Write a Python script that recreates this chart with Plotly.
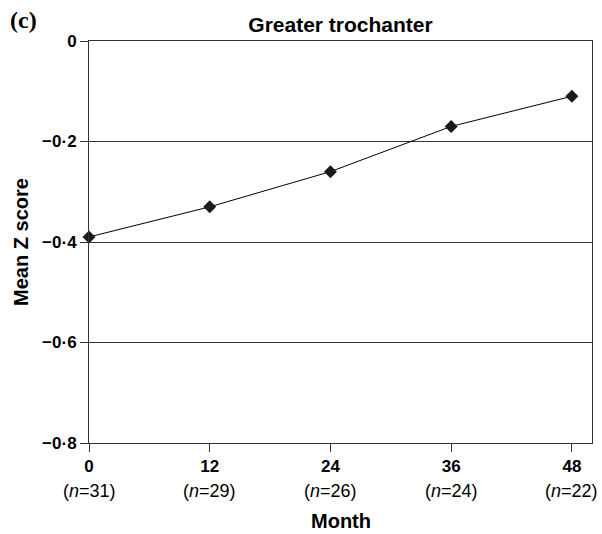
import plotly.graph_objects as go

months = [0, 12, 24, 36, 48]
n_counts = [31, 29, 26, 24, 22]
mean_z = [-0.39, -0.33, -0.26, -0.17, -0.11]
y_ticks = [0, -0.2, -0.4, -0.6, -0.8]
y_tick_labels = ["0", "\u22120\u00b72", "\u22120\u00b74", "\u22120\u00b76", "\u22120\u00b78"]

FONT = "Liberation Sans, Arial, sans-serif"
L, R, T, B = 89, 10, 41, 91
PW, PH = 602 - L - R, 534 - T - B

fig = go.Figure()
fig.add_trace(go.Scatter(
    x=months, y=mean_z, mode="lines+markers",
    line=dict(color="#000000", width=1),
    marker=dict(symbol="diamond", size=10, color="#1a1a1a"),
    showlegend=False, cliponaxis=False,
))

fig.update_layout(
    width=602, height=534,
    margin=dict(l=L, r=R, t=T, b=B),
    paper_bgcolor="white", plot_bgcolor="white",
    font=dict(family=FONT, color="#000000"),
    title=dict(text="<b>Greater trochanter</b>", x=(L + 602 - R) / 2 / 602, xanchor="center",
               y=1 - 25 / 534, yanchor="middle", font=dict(size=21, family=FONT)),
    xaxis=dict(
        range=[0, 50], tickmode="array", tickvals=months,
        ticktext=["<b>%d</b>" % m for m in months],
        ticks="outside", ticklen=8, tickcolor="#333333", tickwidth=1,
        showline=True, linecolor="#333333", linewidth=1, mirror=True,
        showgrid=False, zeroline=False, automargin=False,
        tickfont=dict(size=17, family=FONT),
    ),
    yaxis=dict(
        range=[-0.8, 0], tickmode="array", tickvals=y_ticks, ticktext=["<b>%s</b>" % t for t in y_tick_labels],
        ticks="outside", ticklen=8, tickcolor="#333333", tickwidth=1,
        showline=True, linecolor="#333333", linewidth=1, mirror=True,
        showgrid=True, gridcolor="#333333", gridwidth=1, zeroline=False, automargin=False,
        tickfont=dict(size=17, family=FONT),
        title=dict(text="<b>Mean Z score</b>", font=dict(size=20, family=FONT), standoff=8),
    ),
)

for m, n in zip(months, n_counts):
    fig.add_annotation(x=m, y=-0.8, xref="x", yref="y", yshift=-48,
                       text="(<i>n</i>=%d)" % n, showarrow=False,
                       font=dict(size=18, family=FONT), xanchor="center", yanchor="middle")

fig.add_annotation(x=0.5, y=-(521 - (T + PH)) / PH, xref="paper", yref="paper",
                   text="<b>Month</b>", showarrow=False, xanchor="center", yanchor="middle",
                   font=dict(size=20, family=FONT))

fig.add_annotation(x=(8 - L) / PW, y=1 + (T - 20) / PH, xref="paper", yref="paper",
                   text="<b>(c)</b>", showarrow=False, xanchor="left", yanchor="middle",
                   font=dict(size=24, family="Liberation Serif, Times New Roman, serif"))

fig.write_html("out.html")
